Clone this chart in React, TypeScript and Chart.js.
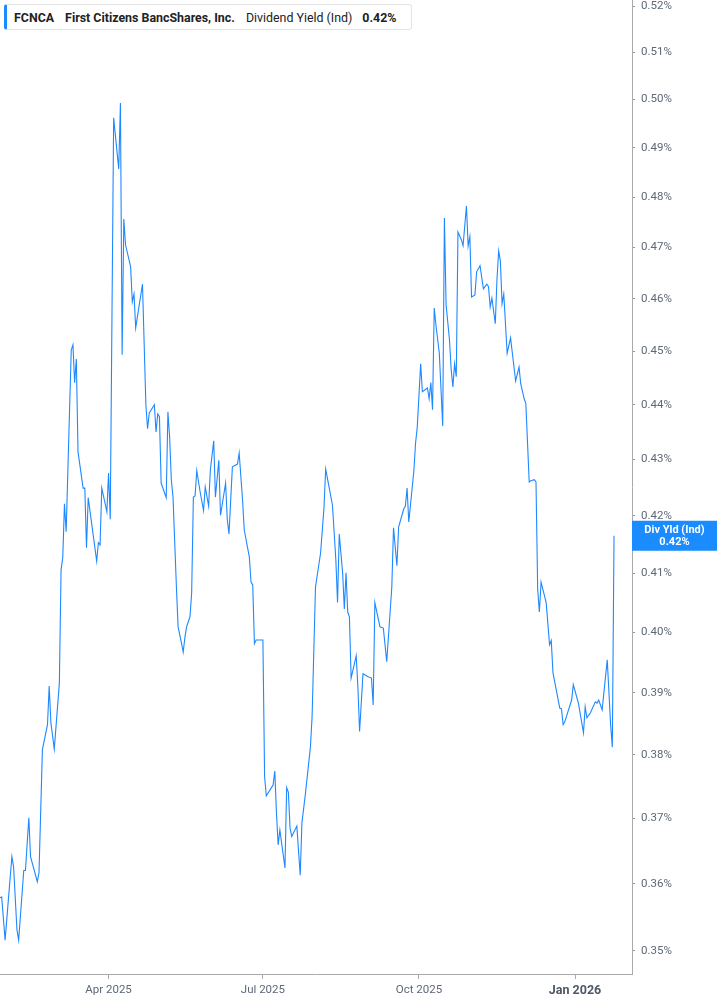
import React, { useEffect, useRef } from "react";
import { Chart, registerables } from "chart.js";

Chart.register(...registerables);

// dividend yield (%), one value per date
const dates = [
  "2025-01-27", "2025-01-28", "2025-01-30",
  "2025-02-03", "2025-02-04", "2025-02-06", "2025-02-07", "2025-02-10", "2025-02-11", "2025-02-13", "2025-02-14",
  "2025-02-18", "2025-02-19", "2025-02-21", "2025-02-24", "2025-02-25", "2025-02-26", "2025-02-28",
  "2025-03-03", "2025-03-04", "2025-03-05", "2025-03-06", "2025-03-07", "2025-03-10", "2025-03-11", "2025-03-12",
  "2025-03-13", "2025-03-14", "2025-03-17", "2025-03-18", "2025-03-19", "2025-03-20", "2025-03-25", "2025-03-26",
  "2025-03-27", "2025-03-28", "2025-03-31",
  "2025-04-01", "2025-04-02", "2025-04-04", "2025-04-07", "2025-04-08", "2025-04-09", "2025-04-10", "2025-04-11",
  "2025-04-14", "2025-04-15", "2025-04-16", "2025-04-17", "2025-04-21", "2025-04-23", "2025-04-24", "2025-04-25",
  "2025-04-28", "2025-04-29", "2025-04-30",
  "2025-05-01", "2025-05-02", "2025-05-05", "2025-05-06", "2025-05-07", "2025-05-08", "2025-05-09", "2025-05-11",
  "2025-05-12", "2025-05-14", "2025-05-15", "2025-05-16", "2025-05-17", "2025-05-19", "2025-05-20", "2025-05-21",
  "2025-05-22", "2025-05-23", "2025-05-25", "2025-05-27", "2025-05-28", "2025-05-30", "2025-05-31",
  "2025-06-02", "2025-06-03", "2025-06-05", "2025-06-06", "2025-06-09", "2025-06-10", "2025-06-11", "2025-06-13",
  "2025-06-16", "2025-06-17", "2025-06-19", "2025-06-20", "2025-06-23", "2025-06-24", "2025-06-25", "2025-06-26",
  "2025-06-27",
  "2025-07-01", "2025-07-02", "2025-07-03", "2025-07-07", "2025-07-08", "2025-07-09", "2025-07-10", "2025-07-11",
  "2025-07-14", "2025-07-15", "2025-07-16", "2025-07-17", "2025-07-18", "2025-07-21", "2025-07-23", "2025-07-24",
  "2025-07-26", "2025-07-29", "2025-07-30",
  "2025-08-01", "2025-08-04", "2025-08-06", "2025-08-07", "2025-08-11", "2025-08-13", "2025-08-14", "2025-08-15",
  "2025-08-17", "2025-08-18", "2025-08-19", "2025-08-20", "2025-08-21", "2025-08-22", "2025-08-25", "2025-08-26",
  "2025-08-27", "2025-08-29",
  "2025-09-01", "2025-09-03", "2025-09-04", "2025-09-05", "2025-09-08", "2025-09-10", "2025-09-12", "2025-09-15",
  "2025-09-16", "2025-09-18", "2025-09-19", "2025-09-22", "2025-09-23", "2025-09-24", "2025-09-25", "2025-09-28",
  "2025-09-29", "2025-09-30",
  "2025-10-02", "2025-10-03", "2025-10-06", "2025-10-07", "2025-10-08", "2025-10-09", "2025-10-10", "2025-10-11",
  "2025-10-13", "2025-10-15", "2025-10-16", "2025-10-17", "2025-10-19", "2025-10-20", "2025-10-21", "2025-10-22",
  "2025-10-23", "2025-10-24", "2025-10-26", "2025-10-27", "2025-10-29", "2025-10-30", "2025-10-31",
  "2025-11-01", "2025-11-03", "2025-11-04", "2025-11-06", "2025-11-08", "2025-11-10", "2025-11-11", "2025-11-12",
  "2025-11-13", "2025-11-15", "2025-11-16", "2025-11-17", "2025-11-18", "2025-11-19", "2025-11-20", "2025-11-22",
  "2025-11-24", "2025-11-27", "2025-11-29", "2025-11-30",
  "2025-12-02", "2025-12-03", "2025-12-05", "2025-12-06", "2025-12-08", "2025-12-09", "2025-12-10", "2025-12-11",
  "2025-12-12", "2025-12-15", "2025-12-17", "2025-12-18", "2025-12-19", "2025-12-23", "2025-12-24", "2025-12-25",
  "2025-12-26", "2025-12-30", "2025-12-31",
  "2026-01-03", "2026-01-06", "2026-01-07", "2026-01-08", "2026-01-10", "2026-01-13", "2026-01-14", "2026-01-15",
  "2026-01-17", "2026-01-20", "2026-01-22", "2026-01-23", "2026-01-24",
];

const yields = [
  0.3579, 0.3580, 0.3516,
  0.3641, 0.3626, 0.3531, 0.3516, 0.3620, 0.3620, 0.3701, 0.3641,
  0.3603, 0.3617, 0.3808, 0.3848, 0.3911, 0.3851, 0.3809,
  0.3916, 0.4106, 0.4127, 0.4221, 0.4172, 0.4502, 0.4512, 0.4441,
  0.4485, 0.4314, 0.4249, 0.4249, 0.4144, 0.4232, 0.4121, 0.4153,
  0.4149, 0.4249, 0.4207,
  0.4276, 0.4194, 0.4962, 0.4857, 0.4993, 0.4493, 0.4756, 0.4705,
  0.4662, 0.4594, 0.4609, 0.4544, 0.4628, 0.4400, 0.4356, 0.4385,
  0.4400, 0.4350, 0.4383,
  0.4378, 0.4258, 0.4232, 0.4387, 0.4341, 0.4264, 0.4233, 0.4077,
  0.4009, 0.3982, 0.3967, 0.3991, 0.4009, 0.4026, 0.4067, 0.4233,
  0.4235, 0.4280, 0.4242, 0.4209, 0.4251, 0.4217, 0.4281,
  0.4334, 0.4233, 0.4299, 0.4201, 0.4258, 0.4193, 0.4168, 0.4287,
  0.4292, 0.4312, 0.4228, 0.4175, 0.4128, 0.4085, 0.4080, 0.3981,
  0.3987,
  0.3987, 0.3765, 0.3735, 0.3752, 0.3774, 0.3708, 0.3659, 0.3682,
  0.3624, 0.3748, 0.3741, 0.3685, 0.3672, 0.3688, 0.3613, 0.3693,
  0.3737, 0.3812, 0.3861,
  0.4077, 0.4135, 0.4214, 0.4283, 0.4219, 0.4123, 0.4050, 0.4168,
  0.4101, 0.4039, 0.4101, 0.4034, 0.4026, 0.3924, 0.3961, 0.3909,
  0.3837, 0.3931,
  0.3926, 0.3924, 0.3880, 0.4050, 0.4009, 0.4007, 0.3951, 0.4077,
  0.4179, 0.4113, 0.4180, 0.4212, 0.4217, 0.4249, 0.4189, 0.4280,
  0.4330, 0.4359,
  0.4476, 0.4424, 0.4431, 0.4411, 0.4441, 0.4391, 0.4582, 0.4550,
  0.4496, 0.4361, 0.4758, 0.4588, 0.4521, 0.4465, 0.4433, 0.4476,
  0.4452, 0.4730, 0.4715, 0.4703, 0.4782, 0.4703, 0.4721,
  0.4603, 0.4607, 0.4652, 0.4664, 0.4619, 0.4628, 0.4623, 0.4584,
  0.4601, 0.4552, 0.4638, 0.4693, 0.4673, 0.4590, 0.4609, 0.4496,
  0.4525, 0.4444, 0.4470, 0.4439,
  0.4411, 0.4403, 0.4260, 0.4262, 0.4264, 0.4260, 0.4072, 0.4034,
  0.4085, 0.4050, 0.3979, 0.3986, 0.3933, 0.3875, 0.3874, 0.3848,
  0.3853, 0.3888, 0.3913,
  0.3883, 0.3835, 0.3877, 0.3859, 0.3867, 0.3885, 0.3883, 0.3888,
  0.3872, 0.3954, 0.3848, 0.3812, 0.4165,
];

const xTickDates = ["2025-04-01", "2025-07-01", "2025-10-01", "2026-01-01"];
const xTickLabels = ["Apr 2025", "Jul 2025", "Oct 2025", "Jan 2026"];
const yTicks = [
  0.35, 0.36, 0.37, 0.38, 0.39, 0.4, 0.41, 0.42, 0.43,
  0.44, 0.45, 0.46, 0.47, 0.48, 0.49, 0.5, 0.51, 0.52,
];

const ticker = "FCNCA";
const company = "First Citizens BancShares, Inc.";
const metric = "Dividend Yield (Ind)";
const badgeLabel = "Div Yld (Ind)";

const BLUE = "#1e88ff";
const AXIS_TEXT = "#5e6877";
const FONT = "Roboto, 'Liberation Sans', sans-serif";
const DAY = 86400000;
const toTime = (s: string) => Date.parse(s + "T00:00:00Z");

const lastBadge = {
  id: "lastBadge",
  afterDraw(chart: any) {
    const { ctx, chartArea, scales } = chart;
    const last = yields[yields.length - 1];
    const y = scales.y.getPixelForValue(last);
    const x = chartArea.right;
    const w = chart.width - x;
    ctx.save();
    ctx.fillStyle = "#1a8cff";
    ctx.fillRect(x, y - 15, w, 30);
    ctx.fillStyle = "#ffffff";
    ctx.font = "bold 11px " + FONT;
    ctx.textAlign = "center";
    ctx.textBaseline = "middle";
    ctx.fillText(badgeLabel, x + w / 2, y - 6);
    ctx.fillText(last.toFixed(2) + "%", x + w / 2, y + 6);
    ctx.restore();
  },
};

const App: React.FC = () => {
  const canvasRef = useRef<HTMLCanvasElement | null>(null);
  const chartRef = useRef<Chart | null>(null);

  useEffect(() => {
    document.body.style.margin = "0";
    if (!canvasRef.current) return;
    const points = dates.map((d, i) => ({ x: toTime(d), y: yields[i] }));
    const tickTimes = xTickDates.map(toTime);

    chartRef.current = new Chart(canvasRef.current, {
      type: "line",
      data: {
        datasets: [
          {
            label: metric,
            data: points,
            borderColor: BLUE,
            borderWidth: 1.1,
            pointRadius: 0,
            tension: 0,
            fill: false,
          },
        ],
      },
      options: {
        responsive: true,
        maintainAspectRatio: false,
        animation: false,
        layout: { padding: 0 },
        plugins: {
          legend: { display: false },
          tooltip: { enabled: false },
        },
        scales: {
          x: {
            type: "linear",
            min: toTime("2025-01-27"),
            max: toTime("2026-02-03") + 0.6 * DAY,
            afterBuildTicks: (scale: any) => {
              scale.ticks = tickTimes.map((v) => ({ value: v }));
            },
            afterFit: (scale: any) => {
              scale.height = 31;
              scale.paddingLeft = 0;
              scale.paddingRight = 0;
            },
            grid: {
              drawOnChartArea: false,
              drawTicks: true,
              tickLength: 5,
              color: "#aaaaaa",
            },
            border: { display: true, color: "#aaaaaa", width: 1 },
            ticks: {
              autoSkip: false,
              maxRotation: 0,
              padding: 4,
              color: (c: any) => (c.index === 3 ? "#4f5866" : AXIS_TEXT),
              font: (c: any) =>
                c.index === 3
                  ? { family: FONT, size: 12.5, weight: "bold" }
                  : { family: FONT, size: 11.5 },
              callback: (v: any) => {
                const i = tickTimes.indexOf(Number(v));
                return i >= 0 ? xTickLabels[i] : "";
              },
            },
          },
          y: {
            type: "logarithmic",
            position: "right",
            min: 0.34664,
            max: 0.52131,
            afterBuildTicks: (scale: any) => {
              scale.ticks = yTicks.map((v) => ({ value: v }));
            },
            afterFit: (scale: any) => {
              scale.width = 85;
              scale.paddingTop = 0;
              scale.paddingBottom = 0;
            },
            grid: {
              drawOnChartArea: false,
              drawTicks: true,
              tickLength: 3,
              color: "#999999",
            },
            border: { display: true, color: "#aaaaaa", width: 1 },
            ticks: {
              padding: 6,
              color: AXIS_TEXT,
              font: { family: FONT, size: 11.5 },
              callback: (v: any) => Number(v).toFixed(2) + "%",
            },
          },
        },
      },
      plugins: [lastBadge],
    });

    return () => {
      if (chartRef.current) {
        chartRef.current.destroy();
        chartRef.current = null;
      }
    };
  }, []);

  return (
    <div style={{ position: "relative", width: 717, height: 1005, background: "#fff" }}>
      <canvas ref={canvasRef}></canvas>
      <div
        style={{
          position: "absolute",
          left: 4,
          top: 4,
          width: 408,
          height: 26,
          boxSizing: "border-box",
          border: "1px solid #e4e4e4",
          borderLeft: "3px solid #1a8cff",
          borderRadius: 3,
          background: "#fff",
          display: "flex",
          alignItems: "center",
          paddingLeft: 7,
          fontFamily: FONT,
          fontSize: 12.4,
          color: "#222",
          whiteSpace: "nowrap",
        }}
      >
        <span style={{ fontWeight: "bold", marginRight: 11 }}>{ticker}</span>
        <span style={{ fontWeight: "bold", marginRight: 11 }}>{company}</span>
        <span style={{ marginRight: 10 }}>{metric}</span>
        <span style={{ fontWeight: "bold" }}>{yields[yields.length - 1].toFixed(2)}%</span>
      </div>
    </div>
  );
};

export default App;
